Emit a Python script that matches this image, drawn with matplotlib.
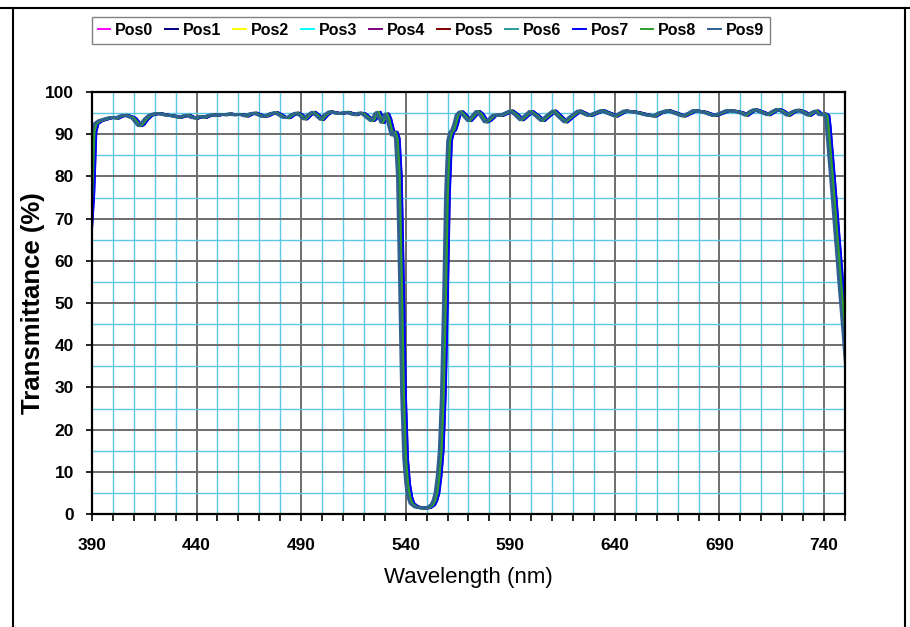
import matplotlib
matplotlib.use('Agg')
import matplotlib.pyplot as plt
from matplotlib.lines import Line2D
from matplotlib.ticker import MultipleLocator
import numpy as np

plt.rcParams['font.family'] = ['Liberation Sans', 'DejaVu Sans']

# base transmission spectrum (nm, %)
wavelength = [388, 389, 390, 391, 392, 394, 396, 398, 400, 402, 404, 406, 408, 410,
              412, 413, 414, 416, 418, 420, 422, 424, 426, 428, 430, 432, 434, 436,
              438, 440, 442, 444, 446, 448, 450, 452, 454, 456, 458, 460, 462, 464,
              466, 468, 470, 472, 474, 476, 478, 480, 482, 484, 486, 488, 490, 492,
              494, 496, 498, 500, 502, 504, 506, 508, 510, 512, 514, 516, 518, 520,
              522, 524, 525, 526, 527, 528, 529, 530, 531, 532, 533, 534, 535, 536,
              537, 538, 539, 540, 541, 542, 543, 545, 548, 551, 553, 554, 555, 556,
              557, 558, 559, 560, 561, 562, 563, 564, 565, 566.5, 568, 570.5, 572,
              574.5, 576, 578.5, 580, 582.5, 586, 590.5, 593, 595.5, 598, 600, 603,
              605.5, 608, 611, 614, 616.5, 619, 623, 626, 628, 631, 634, 637, 640.5,
              645, 650, 652, 655, 659, 662, 665.5, 669, 673, 676, 678, 683, 687.5,
              690, 694, 698, 701, 703, 705, 707, 710, 713.5, 716, 718, 720, 723, 725,
              727.5, 730, 733, 735, 736.5, 738.5, 740, 741, 741.5, 742, 743, 744,
              745, 746, 747, 748, 749, 750, 751, 752]
transmittance = [60, 68, 76, 90.5, 92.5, 93.2, 93.5, 93.8, 94.0, 93.8, 94.3, 94.5, 94.2, 93.8,
                 92.6, 92.0, 92.3, 93.6, 94.5, 94.8, 94.9, 94.7, 94.5, 94.4, 94.2, 94.0, 94.3, 94.5,
                 94.0, 93.8, 94.2, 94.0, 94.4, 94.6, 94.5, 94.7, 94.6, 94.8, 94.6, 94.7, 94.6, 94.3,
                 94.8, 95.0, 94.6, 94.2, 94.4, 94.9, 95.1, 94.6, 94.0, 93.9, 94.6, 95.0, 94.5, 93.6,
                 94.6, 95.2, 94.4, 93.5, 94.6, 95.3, 95.1, 94.9, 95.0, 95.2, 94.9, 94.6, 95.0, 94.8,
                 94.0, 93.2, 93.6, 94.8, 95.2, 94.0, 92.8, 93.8, 94.8, 93.6, 91.5, 89.8, 90.5, 89.0,
                 80, 55, 28, 13, 7, 4, 2.5, 1.7, 1.4, 1.5, 2.2, 3.2, 5, 9,
                 15, 28, 50, 76, 88.5, 90.5, 91.0, 92.5, 94.5, 95.3, 94.6, 93.2, 94.0,
                 95.4, 94.8, 92.9, 93.3, 94.5, 94.5, 95.5, 94.6, 93.4, 94.5, 95.4, 94.3,
                 93.2, 94.3, 95.5, 94.1, 92.9, 94.0, 95.5, 94.8, 94.4, 95.0, 95.6, 95.0, 94.3,
                 95.5, 95.2, 95.0, 94.6, 94.3, 95.1, 95.6, 95.0, 94.3, 95.0, 95.6, 95.2, 94.4,
                 94.8, 95.6, 95.4, 95.0, 94.5, 95.3, 95.8, 95.3, 94.6, 95.4, 95.9, 95.5, 94.5, 95.2,
                 95.7, 95.3, 94.5, 95.2, 95.5, 94.6, 94.8, 94.6, 94.3, 92, 86, 80,
                 74, 67.5, 61.5, 55, 49, 43, 36.5, 30.5]

series = ['Pos0', 'Pos1', 'Pos2', 'Pos3', 'Pos4', 'Pos5', 'Pos6', 'Pos7', 'Pos8', 'Pos9']
# wavelength offset of each position relative to the base spectrum (nm)
shift_nm = [0.2, 0.8, 0.0, -0.2, 0.4, 0.3, -0.5, 0.9, 0.0, -1.0]
colors = ['#FF00FF', '#000080', '#FFFF00', '#00FFFF', '#800080',
          '#800000', '#2E9A9A', '#0000FF', '#2E9E2E', '#2F6090']

fig = plt.figure(figsize=(9.1, 6.27), dpi=100)
ax = fig.add_axes([92 / 910, 1 - 514 / 627, (845 - 92) / 910, (514 - 92) / 627])

wl = np.array(wavelength)
for name, s, c in zip(series, shift_nm, colors):
    ax.plot(wl + s, transmittance, color=c, lw=2.0, label=name)

ax.set_xlim(390, 750)
ax.set_ylim(0, 100)
ax.xaxis.set_major_locator(MultipleLocator(50))
ax.xaxis.set_minor_locator(MultipleLocator(10))
ax.yaxis.set_major_locator(MultipleLocator(10))
ax.yaxis.set_minor_locator(MultipleLocator(5))
ax.set_xticks(np.arange(390, 751, 50))

ax.grid(which='minor', color='#5CC8E6', lw=1.0)
ax.grid(which='major', color='#6E6E6E', lw=1.4)
ax.set_axisbelow(True)
for sp in ax.spines.values():
    sp.set_linewidth(1.6)
    sp.set_color('black')

ax.tick_params(axis='x', which='both', direction='out', length=5, width=1.2, pad=12)
ax.tick_params(axis='y', which='major', direction='out', length=4, width=1.2, pad=9)
ax.tick_params(axis='y', which='minor', length=0)
for lab in ax.get_xticklabels() + ax.get_yticklabels():
    lab.set_fontsize(12.5)
    lab.set_fontweight('bold')

ax.set_xlabel('Wavelength (nm)', fontsize=16)
ax.xaxis.set_label_coords(0.5, -(577 - 514) / 422, transform=ax.transAxes)
ax.set_ylabel('Transmittance (%)', fontsize=18.5, fontweight='bold')
ax.yaxis.set_label_coords(-(92 - 33) / 753, 0.5, transform=ax.transAxes)
ax.xaxis.label.set_va('center')
ax.yaxis.label.set_va('center')

leg = fig.legend(loc='center', bbox_to_anchor=(431 / 910, 1 - 30.5 / 627), ncol=10,
                 prop={'size': 11.5, 'weight': 'bold'}, handlelength=0.8,
                 handletextpad=0.3, columnspacing=0.75, borderpad=0.35,
                 fancybox=False, framealpha=1, edgecolor='#808080')
leg.get_frame().set_linewidth(1.0)
for h in leg.get_lines():
    h.set_linewidth(1.4)

# outer chart border
fig.add_artist(Line2D([0, 1], [1 - 8 / 627, 1 - 8 / 627], color='black', lw=1.5))
fig.add_artist(Line2D([13 / 910, 13 / 910], [0, 1 - 8 / 627], color='black', lw=1.5))
fig.add_artist(Line2D([905 / 910, 905 / 910], [0, 1 - 8 / 627], color='black', lw=1.5))

fig.savefig('out.png', dpi=100)
